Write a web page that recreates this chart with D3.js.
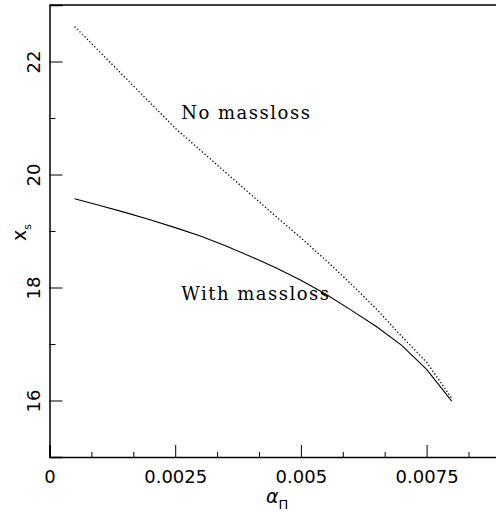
<!DOCTYPE html>
<html>
<head>
<meta charset="utf-8">
<script src="https://cdn.jsdelivr.net/npm/d3@7"></script>
<style>
  body { margin: 0; background: #fff; }
  svg { display: block; }
  .tick text { font-family: "DejaVu Sans", sans-serif; font-size: 18px; fill: #000; }
  .anno { font-family: "DejaVu Serif", serif; font-size: 18px; letter-spacing: 1.5px; }
</style>
</head>
<body>
<div id="chart"></div>
<script>
// alpha values (x) shared by both curves
const alpha = [0.0005, 0.001, 0.0015, 0.002, 0.0025, 0.003, 0.0035, 0.004,
  0.0045, 0.005, 0.0055, 0.006, 0.0065, 0.007, 0.0075, 0.008];
// x_s without mass loss (dotted)
const noMassloss = [22.62, 22.17, 21.72, 21.27, 20.82, 20.43, 20.04, 19.65,
  19.26, 18.88, 18.48, 18.06, 17.62, 17.14, 16.68, 16.04];
// x_s with mass loss (solid)
const withMassloss = [19.57, 19.45, 19.33, 19.20, 19.06, 18.91, 18.74, 18.55,
  18.35, 18.13, 17.88, 17.60, 17.31, 16.98, 16.55, 15.99];

const xMajor = [0, 0.0025, 0.005, 0.0075];
const xTickLabels = ["0", "0.0025", "0.005", "0.0075"];
const xMinor = [0.0025 / 3, 0.005 / 3, 0.01 / 3, 0.0125 / 3, 0.0175 / 3, 0.02 / 3, 0.025 / 3];
const yMajor = [16, 18, 20, 22];
const yTickLabels = ["16", "18", "20", "22"];
const yMinor = [17, 19, 21];

const labels = [
  { text: "No massloss", x: 0.00262, y: 20.98 },
  { text: "With massloss", x: 0.00262, y: 17.78 }
];

const width = 496, height = 513;
const svg = d3.select("#chart").append("svg").attr("width", width).attr("height", height);

const x = d3.scaleLinear().domain([0, 0.009]).range([49.5, 502]);
const y = d3.scaleLinear().domain([15, 23]).range([457, 5]);

// major / minor ticks on bottom axis
const gx = svg.append("g").attr("transform", `translate(0,${y(15)})`);
gx.call(d3.axisBottom(x).tickValues(xMajor).tickSize(-12).tickPadding(13)
  .tickFormat((d, i) => xTickLabels[i]));
svg.append("g").attr("transform", `translate(0,${y(15)})`)
  .call(d3.axisBottom(x).tickValues(xMinor).tickSize(-5).tickFormat(""))
  .select(".domain").remove();

// left axis, labels rotated
const gy = svg.append("g").attr("transform", `translate(${x(0)},0)`);
gy.call(d3.axisLeft(y).tickValues(yMajor).tickSize(-13).tickFormat((d, i) => yTickLabels[i]));
gy.selectAll(".tick text")
  .attr("x", null).attr("dy", null)
  .attr("text-anchor", "middle")
  .attr("transform", "translate(-10,0) rotate(-90)");
svg.append("g").attr("transform", `translate(${x(0)},0)`)
  .call(d3.axisLeft(y).tickValues(yMinor).tickSize(-6).tickFormat(""))
  .select(".domain").remove();

svg.selectAll(".domain").attr("stroke", "#000").attr("stroke-width", 1.5);
svg.selectAll(".tick line").attr("stroke", "#000");

// top border
svg.append("line")
  .attr("x1", x(0)).attr("x2", x(0.009))
  .attr("y1", y(23)).attr("y2", y(23))
  .attr("stroke", "#000").attr("stroke-width", 1.5);

const line = d3.line().x((d, i) => x(alpha[i])).y(d => y(d));

svg.append("path").datum(noMassloss)
  .attr("d", line).attr("fill", "none")
  .attr("stroke", "#000").attr("stroke-width", 1.3)
  .attr("stroke-dasharray", "1.3,2.2");

svg.append("path").datum(withMassloss)
  .attr("d", line).attr("fill", "none")
  .attr("stroke", "#000").attr("stroke-width", 1.1);

svg.selectAll(".anno").data(labels).enter().append("text")
  .attr("class", "anno")
  .attr("x", d => x(d.x)).attr("y", d => y(d.y))
  .text(d => d.text);

// axis titles
const xt = svg.append("text")
  .attr("x", 266).attr("y", 503)
  .attr("font-family", "DejaVu Sans, sans-serif");
xt.append("tspan").attr("font-size", 19).attr("font-style", "italic").text("α");
xt.append("tspan").attr("font-size", 13).attr("dy", 6).text("Π");

const yt = svg.append("text")
  .attr("transform", "translate(26,241) rotate(-90)")
  .attr("font-family", "DejaVu Sans, sans-serif");
yt.append("tspan").attr("font-size", 19).text("x");
yt.append("tspan").attr("font-size", 11).attr("dy", 5).text("s");
</script>
</body>
</html>
